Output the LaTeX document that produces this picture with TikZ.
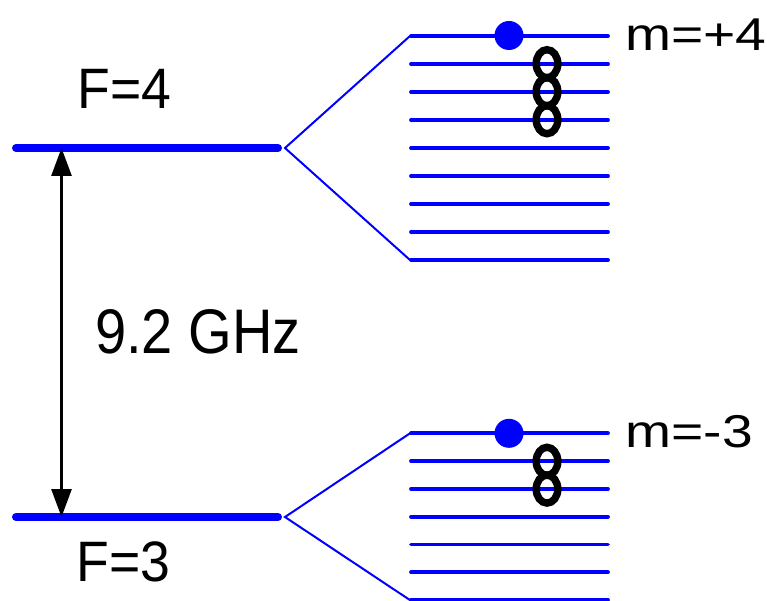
\documentclass[tikz,border=0pt]{standalone}
\usepackage{fontspec}
\setmainfont{Liberation Sans}
\usetikzlibrary{arrows.meta}
\definecolor{lvlblue}{RGB}{0,0,255}
\tikzset{
  flevel/.style={draw=lvlblue, line width=8pt, line cap=round},
  sublevel/.style={draw=lvlblue, line width=3.8pt, line cap=round},
  fanline/.style={draw=lvlblue, line width=2pt, line join=miter},
  atomfull/.style={fill=lvlblue},
  atomhole/.style={draw=black, line width=7.4pt},
  lbl/.style={anchor=base west, inner sep=0pt, outer sep=0pt, text=black},
  freqarrow/.style={draw=black, line width=2.8pt, {Triangle[length=28pt,width=20pt]}-{Triangle[length=28pt,width=20pt]}}
}
\begin{document}
\begin{tikzpicture}[x=1pt,y=-1pt]
\path[use as bounding box] (0,0) rectangle (767,601);
% main levels
\coordinate (F4a) at (16,148);
\coordinate (F4b) at (278,148);
\coordinate (F3a) at (16,517);
\coordinate (F3b) at (278,517);
\draw[flevel] (F4a) -- (F4b);
\draw[flevel] (F3a) -- (F3b);
% fans
\coordinate (V4) at (285,148);
\coordinate (V3) at (285,517);
\foreach \i in {0,...,8}{
  \coordinate (u\i a) at (411,{36+28*\i});
  \coordinate (u\i b) at (608,{36+28*\i});
  \draw[sublevel] (u\i a) -- (u\i b);
}
\foreach \i in {0,...,6}{
  \coordinate (l\i a) at (411,{433.3+27.8*\i});
  \coordinate (l\i b) at (608,{433.3+27.8*\i});
  \draw[sublevel] (l\i a) -- (l\i b);
}
\coordinate (u0f) at (410,36);
\coordinate (u8f) at (410,260);
\coordinate (l0f) at (410,433.3);
\coordinate (l6f) at (410,600.1);
\draw[fanline] (u0f) -- (V4) -- (u8f);
\draw[fanline] (l0f) -- (V3) -- (l6f);
% atoms
\fill[atomfull] (509,35.5) circle (14.5);
\fill[atomfull] (509,433.3) circle (14.5);
\foreach \y in {63.7,91.7,119.7}{
  \draw[atomhole] (547,\y) ellipse [x radius=10.8, y radius=14];
}
\foreach \y in {461.3,489.1}{
  \draw[atomhole] (547,\y) ellipse [x radius=10.8, y radius=14];
}
% arrow
\coordinate (At) at (61.5,148);
\coordinate (Ab) at (61.5,517);
\draw[freqarrow] (At) -- (Ab);
% labels
\node[lbl, font=\fontsize{57}{60}\selectfont] (lF4) at (77.5,108.3) {\scalebox{0.94}[1]{F=4}};
\node[lbl, font=\fontsize{57}{60}\selectfont] (lF3) at (76.5,581.7) {\scalebox{0.94}[1]{F=3}};
\node[lbl, font=\fontsize{63}{66}\selectfont] (lGHz) at (95,353) {\scalebox{0.89}[1]{9.2 GHz}};
\node[lbl, font=\fontsize{46}{50}\selectfont] (lm4) at (625.5,50.7) {\scalebox{1.2}[1]{m=+4}};
\node[lbl, font=\fontsize{46}{50}\selectfont] (lm3) at (625.5,447) {\scalebox{1.2}[1]{m=-3}};
\end{tikzpicture}
\end{document}
